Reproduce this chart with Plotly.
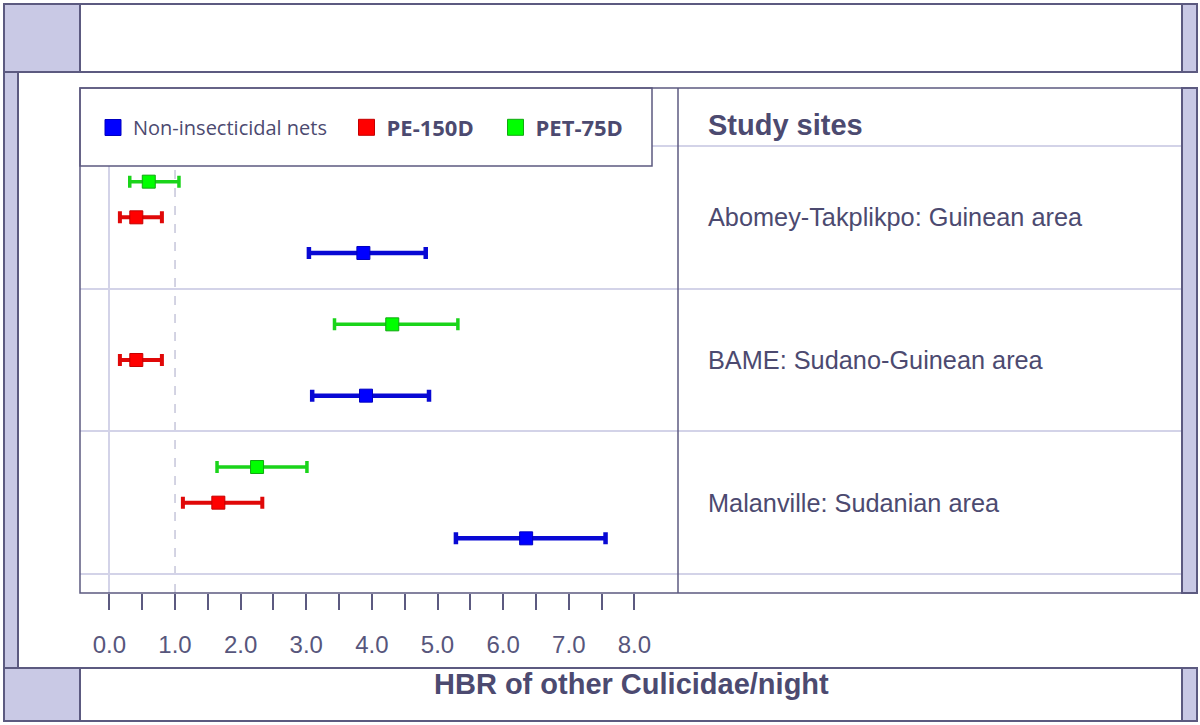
import plotly.graph_objects as go

# ---------------- data ----------------
sites = ["Abomey-Takplikpo: Guinean area", "BAME: Sudano-Guinean area", "Malanville: Sudanian area"]
series_names = ["Non-insecticidal nets", "PE-150D", "PET-75D"]

nin_mean = [3.87, 3.91, 6.35]
nin_low = [3.04, 3.09, 5.28]
nin_high = [4.82, 4.87, 7.56]

pe_mean = [0.41, 0.41, 1.66]
pe_low = [0.16, 0.16, 1.12]
pe_high = [0.80, 0.80, 2.33]

pet_mean = [0.60, 4.31, 2.25]
pet_low = [0.31, 3.43, 1.64]
pet_high = [1.06, 5.31, 3.01]

x_tick_values = [0.0, 0.5, 1.0, 1.5, 2.0, 2.5, 3.0, 3.5, 4.0, 4.5, 5.0, 5.5, 6.0, 6.5, 7.0, 7.5, 8.0]
x_tick_labels = ["0.0", "", "1.0", "", "2.0", "", "3.0", "", "4.0", "", "5.0", "", "6.0", "", "7.0", "", "8.0"]
reference_line_x = 1.0

header_text = "Study sites"
axis_title = "HBR of other Culicidae/night"

# ---------------- styles ----------------
W, H = 1200, 725
FRAME = "#5c5a80"
LAV = "#c9c9e5"
GRID = "#d3d3e8"
TXT = "#4c4a70"
TICKTXT = "#57567c"

series_styles = [
    dict(fill="#0000ff", edge="#0000c0", bar="#0808d4", thick=4.5, font_size=20, bold=False),
    dict(fill="#ff0000", edge="#c40000", bar="#e00808", thick=4, font_size=22, bold=True),
    dict(fill="#00ff00", edge="#12a812", bar="#1ad41a", thick=3.5, font_size=22, bold=True),
]
series_data = [
    (nin_mean, nin_low, nin_high),
    (pe_mean, pe_low, pe_high),
    (pet_mean, pet_low, pet_high),
]


def px(x):
    return x / W


def py(y):
    return 1 - y / H


n_sites = len(sites)
n_series = len(series_names)
band_base = [n_sites - 1 - i for i in range(n_sites)]  # top site first

fig = go.Figure()

legend_ids = ["legend", "legend2", "legend3"]
for k, (name, st, (m, lo, hi)) in enumerate(zip(series_names, series_styles, series_data)):
    slot = (k + 1) / (n_series + 1)
    ys = [b + slot for b in band_base]
    fig.add_trace(go.Scatter(
        x=m, y=ys, mode="markers", name=name, showlegend=False,
        marker=dict(symbol="square", size=13, color=st["fill"], line=dict(color=st["edge"], width=1)),
        error_x=dict(type="data", symmetric=False,
                     array=[h - v for h, v in zip(hi, m)],
                     arrayminus=[v - l for v, l in zip(m, lo)],
                     color=st["bar"], thickness=st["thick"], width=6),
        xaxis="x", yaxis="y",
    ))
    label = f"<b>{name}</b>" if st["bold"] else name
    fig.add_trace(go.Scatter(
        x=[None], y=[None], mode="markers", name=label, legend=legend_ids[k],
        marker=dict(symbol="square", size=18, color=st["fill"], line=dict(color=st["edge"], width=1)),
        xaxis="x", yaxis="y",
    ))

# invisible trace to create the right-hand (study sites) panel
fig.add_trace(go.Scatter(x=[None], y=[None], showlegend=False, xaxis="x2", yaxis="y", hoverinfo="skip"))

# geometry (pixels)
BOX_L, BOX_R, BOX_T, BOX_B = 80, 1182, 88, 593
DIV = 678
y_lo, y_hi = -19 / 142.67, (574 - 88) / 142.67

fig.update_layout(
    width=W, height=H, autosize=False,
    margin=dict(l=0, r=0, t=0, b=0, pad=0),
    paper_bgcolor="white", plot_bgcolor="white",
    xaxis=dict(domain=[px(BOX_L), px(DIV)], range=[-0.448, 8.664],
               tickmode="array", tickvals=x_tick_values, ticktext=x_tick_labels,
               ticks="outside", ticklen=16, tickwidth=1.5, tickcolor=FRAME,
               ticklabelstandoff=14,
               tickfont=dict(family="Liberation Sans, Arial", size=24, color=TICKTXT),
               showgrid=False, zeroline=True, zerolinecolor=GRID, zerolinewidth=1.5,
               showline=False, fixedrange=True),
    xaxis2=dict(domain=[px(DIV), px(BOX_R)], range=[0, 1], anchor="y",
                showgrid=False, zeroline=False, showticklabels=False, ticks="", showline=False),
    yaxis=dict(domain=[py(BOX_B), py(BOX_T)], range=[y_lo, y_hi],
               tickmode="array", tickvals=list(range(n_sites + 1)),
               showticklabels=False, ticks="", showgrid=True, gridcolor=GRID, gridwidth=1.5,
               zeroline=False, showline=False),
    showlegend=True,
)

legend_centers = [113, 366.5, 515.5]
for lid, cx, st in zip(legend_ids, legend_centers, series_styles):
    fig.update_layout({lid: dict(
        x=px(cx - 20), y=py(127.5), xanchor="left", yanchor="middle",
        orientation="h", bgcolor="rgba(0,0,0,0)", borderwidth=0,
        font=dict(family="Open Sans", size=st["font_size"], color=TXT),
        itemsizing="trace", tracegroupgap=0,
    )})

shapes = []


def rect(x0, y0, x1, y1, fill="white", width=2):
    shapes.append(dict(type="rect", xref="paper", yref="paper",
                       x0=px(x0), x1=px(x1), y0=py(y1), y1=py(y0),
                       fillcolor=fill, line=dict(color=FRAME, width=width), layer="above"))


# dashed reference line at x = 1
shapes.append(dict(type="line", xref="x", yref="y domain", x0=reference_line_x, x1=reference_line_x,
                   y0=0, y1=1, line=dict(color="#c6c6da", width=1.5, dash="dash"), layer="below"))

# frame
rect(4, 4, 1197, 72)
rect(4, 4, 80, 72, fill=LAV)
rect(1182, 4, 1197, 72, fill=LAV)
rect(4, 72, 18, 668, fill=LAV)
rect(1182, BOX_T, 1197, BOX_B, fill=LAV)
rect(4, 668, 1197, 721)
rect(4, 668, 80, 721, fill=LAV)
rect(1182, 668, 1197, 721, fill=LAV)
# legend box
rect(BOX_L, BOX_T, 652, 166, fill="white", width=1.5)
# main box outline + divider
shapes.append(dict(type="rect", xref="paper", yref="paper", x0=px(BOX_L), x1=px(BOX_R),
                   y0=py(BOX_B), y1=py(BOX_T), line=dict(color=FRAME, width=1.5), layer="above"))
shapes.append(dict(type="line", xref="paper", yref="paper", x0=px(DIV), x1=px(DIV),
                   y0=py(BOX_B), y1=py(BOX_T), line=dict(color=FRAME, width=1.5), layer="above"))
fig.update_layout(shapes=shapes)

annotations = [
    dict(text=f"<b>{header_text}</b>", xref="paper", yref="paper", x=px(706), y=py(125),
         xanchor="left", yanchor="middle", showarrow=False,
         font=dict(family="Liberation Sans, Arial", size=29, color=TXT)),
    dict(text=f"<b>{axis_title}</b>", xref="paper", yref="paper", x=px(632), y=py(684),
         xanchor="center", yanchor="middle", showarrow=False,
         font=dict(family="Liberation Sans, Arial", size=29, color=TXT)),
]
for s, b in zip(sites, band_base):
    annotations.append(dict(text=s, xref="paper", yref="y", x=px(706), y=b + 0.5,
                            xanchor="left", yanchor="middle", showarrow=False,
                            font=dict(family="Liberation Sans, Arial", size=25.3, color=TXT)))
fig.update_layout(annotations=annotations)

fig.write_html("out.html", config={"displayModeBar": False},
               post_script="document.body.style.margin='0';")
